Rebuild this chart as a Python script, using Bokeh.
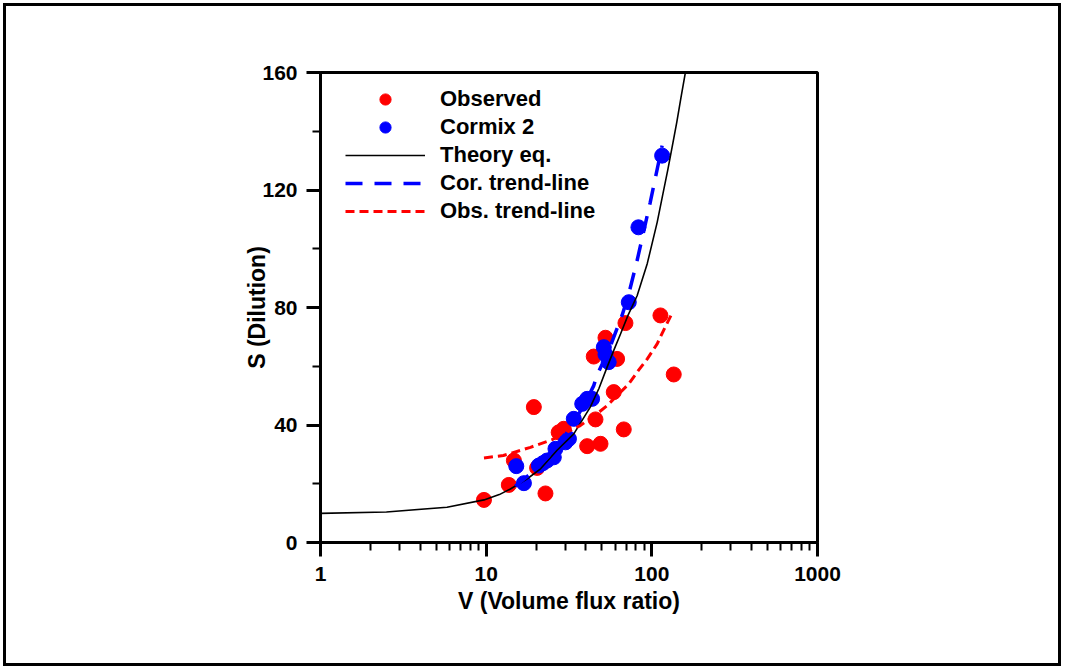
from bokeh.plotting import figure
from bokeh.models import (FixedTicker, SingleIntervalTicker, Legend, LegendItem,
                          Range1d, BasicTickFormatter)
from bokeh.embed import file_html
from bokeh.resources import INLINE

# Observed data (red)
obs_v = [9.7, 13.7, 14.7, 19.4, 20.3, 22.8, 27.4, 29.4, 40.7, 45.7, 49.0, 44.6,
         52.5, 58.9, 61.7, 67.7, 69.3, 112.7, 135.6]
obs_s = [14.5, 19.6, 27.9, 46.1, 25.4, 16.7, 37.5, 38.7, 32.8, 41.9, 33.6, 63.3,
         69.7, 51.2, 62.5, 38.5, 74.7, 77.3, 57.2]

# Cormix 2 data (blue)
cor_v = [15.2, 16.9, 20.8, 22.0, 23.3, 25.6, 26.2, 30.1, 31.6, 33.8, 38.0, 40.7,
         43.6, 51.3, 52.5, 54.9, 72.6, 83.0, 115.4]
cor_s = [26.0, 20.2, 26.2, 27.0, 27.9, 29.0, 31.9, 34.1, 35.3, 42.1, 47.2, 48.9,
         48.9, 66.5, 64.0, 61.4, 81.8, 107.3, 131.7]

# Theory equation curve
theory_v = [1, 2.5, 5.8, 9.7, 12, 14, 17.7, 21.3, 26.8, 33.8, 42.5, 48, 53.7,
            59, 64.7, 72, 81.5, 93.9, 107.7, 116, 125, 133, 141.4, 150, 160]
theory_s = [9.9, 10.4, 12.0, 14.5, 16.3, 18.2, 21.7, 25.1, 31.4, 37.0, 46.1,
            52.5, 59.7, 65.5, 71.0, 77.5, 84.0, 95.0, 109.0, 118.0, 127.0, 135.0,
            143.0, 151.5, 160.5]

# Cormix trend-line
cortr_v = [15, 20, 25, 30, 35, 40, 44.6, 46.6, 55, 66.1, 72.6, 81.5, 97.8, 115.4]
cortr_s = [19.2, 25.0, 30.7, 36.5, 42.3, 48.0, 53.4, 56.9, 65.5, 77.3, 84.7, 96.0,
           115.8, 135.1]

# Observed trend-line
obstr_v = [9.7, 12.7, 18.5, 25, 37, 46.6, 53.7, 72.6, 83, 93.9, 107.7, 115.4, 132]
obstr_s = [28.8, 29.6, 32.4, 35.0, 39.8, 43.8, 46.6, 54.0, 58.6, 62.5, 67.6, 71.2,
           77.9]

x_ticks = [1, 10, 100, 1000]
x_minor = [2, 3, 4, 5, 6, 7, 8, 9, 20, 30, 40, 50, 60, 70, 80, 90,
           200, 300, 400, 500, 600, 700, 800, 900]

FONT = "Liberation Sans"

p = figure(x_axis_type="log", x_range=Range1d(1, 1000), y_range=Range1d(0, 160),
           frame_width=497, frame_height=470,
           min_border_left=320, min_border_right=247,
           min_border_top=72, min_border_bottom=127,
           output_backend="svg", toolbar_location=None)
p.styles = {"outline": "3px solid black", "outline-offset": "-6px"}

p.background_fill_color = "white"
p.border_fill_color = "white"
p.border_fill_alpha = 0
p.xgrid.visible = False
p.ygrid.visible = False
p.outline_line_color = "black"
p.outline_line_width = 3
p.outline_line_alpha = 1

r_obs = p.scatter(obs_v, obs_s, size=15, color="#ff0000", marker="circle")
r_cor = p.scatter(cor_v, cor_s, size=15, color="#0000ff", marker="circle")
r_th = p.line(theory_v, theory_s, line_color="black", line_width=1.6)
r_otr = p.line(obstr_v, obstr_s, line_color="#ff0000", line_width=3,
               line_dash="9 5")
r_ctr = p.line(cortr_v, cortr_s, line_color="#0000ff", line_width=3.5,
               line_dash="17 12")

for ax in (p.xaxis[0], p.yaxis[0]):
    ax.axis_line_width = 3
    ax.axis_line_color = "black"
    ax.major_tick_line_width = 3
    ax.minor_tick_line_width = 2
    ax.major_tick_line_color = "black"
    ax.minor_tick_line_color = "black"
    ax.major_tick_in = 0
    ax.minor_tick_in = 0
    ax.major_tick_out = 14
    ax.minor_tick_out = 8
    ax.major_label_text_font = FONT
    ax.major_label_text_font_style = "bold"
    ax.major_label_text_font_size = "21px"
    ax.major_label_text_color = "black"
    ax.axis_label_text_font = FONT
    ax.axis_label_text_font_style = "bold"
    ax.axis_label_text_font_size = "23px"
    ax.axis_label_text_color = "black"

p.yaxis.ticker = SingleIntervalTicker(interval=40, num_minor_ticks=2)
p.yaxis.major_label_standoff = 9
p.yaxis.axis_label = "S (Dilution)"
p.yaxis.axis_label_standoff = -11

p.xaxis.ticker = FixedTicker(ticks=x_ticks, minor_ticks=x_minor)
p.xaxis.formatter = BasicTickFormatter()
p.xaxis.major_label_overrides = {1: "1", 10: "10", 100: "100", 1000: "1000"}
p.xaxis.major_label_standoff = 10
p.xaxis.axis_label = "V (Volume flux ratio)"
p.xaxis.axis_label_standoff = 4

legend = Legend(items=[
    LegendItem(label="Observed", renderers=[r_obs]),
    LegendItem(label="Cormix 2", renderers=[r_cor]),
    LegendItem(label="Theory eq.", renderers=[r_th]),
    LegendItem(label="Cor. trend-line", renderers=[r_ctr]),
    LegendItem(label="Obs. trend-line", renderers=[r_otr]),
], location=(25, 317))
legend.glyph_width = 80
legend.glyph_height = 28
legend.label_height = 28
legend.label_standoff = 15
legend.spacing = 0
legend.padding = 0
legend.margin = 0
legend.border_line_color = None
legend.background_fill_alpha = 0
legend.label_text_font = FONT
legend.label_text_font_style = "bold"
legend.label_text_font_size = "22px"
legend.label_text_color = "black"
p.add_layout(legend)

open("out.html", "w").write(file_html(p, INLINE))
